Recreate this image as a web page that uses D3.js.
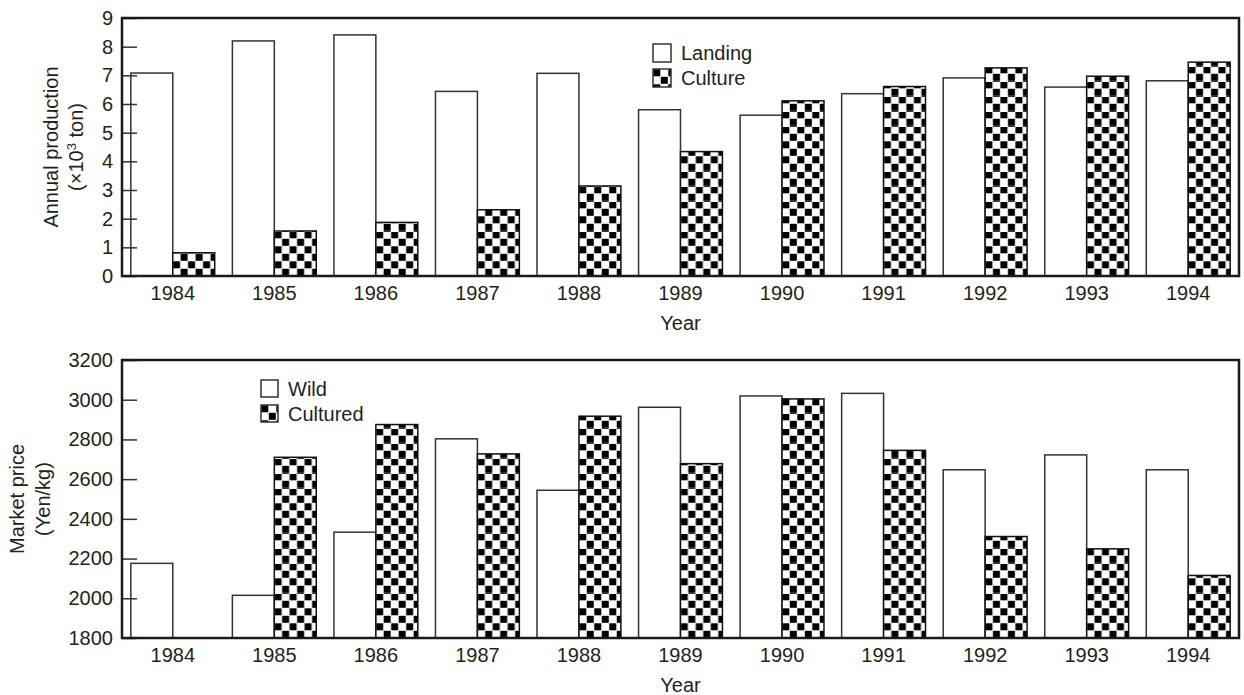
<!DOCTYPE html>
<html>
<head>
<meta charset="utf-8">
<script src="https://cdn.jsdelivr.net/npm/d3@7"></script>
<style>
	body { margin: 0; background: #fff; }
	text { font-family: "Liberation Sans", Arial, sans-serif; fill: #231f20; }
</style>
</head>
<body>
<svg id="chart"></svg>
<script>
// data
let years = ["1984", "1985", "1986", "1987", "1988", "1989", "1990", "1991", "1992", "1993", "1994"];
let landing = [7.08, 8.2, 8.41, 6.44, 7.07, 5.8, 5.61, 6.36, 6.91, 6.59, 6.81];
let culture = [0.81, 1.57, 1.87, 2.31, 3.14, 4.34, 6.11, 6.61, 7.26, 6.97, 7.46];
let wildPrice = [2176, 2015, 2333, 2803, 2544, 2962, 3019, 3032, 2647, 2722, 2647];
let culturedPrice = [null, 2710, 2875, 2727, 2917, 2678, 3004, 2745, 2311, 2249, 2115];
let prodTicks = [0, 1, 2, 3, 4, 5, 6, 7, 8, 9];
let priceTicks = [1800, 2000, 2200, 2400, 2600, 2800, 3000, 3200];

let w = 1244;
let h = 695;
let fs = '20px';

let svg = d3.select('#chart')
	.attr('width', w)
	.attr('height', h);

svg.append('rect').attr('width', w).attr('height', h).attr('fill', '#fff');

// checker fill
let pat = svg.append('defs').append('pattern')
	.attr('id', 'checker')
	.attr('patternUnits', 'userSpaceOnUse')
	.attr('width', 15)
	.attr('height', 15);
pat.append('rect').attr('width', 15).attr('height', 15).attr('fill', '#fff');
pat.append('rect').attr('x', 0.3).attr('y', 0.3).attr('width', 7).attr('height', 7).attr('fill', '#000');
pat.append('rect').attr('x', 7.8).attr('y', 7.8).attr('width', 7).attr('height', 7).attr('fill', '#000');

function makeChart(opt) {
	let marginL = 122;
	let right = 1239;

	let xScale = d3.scaleBand()
		.domain(years)
		.range([marginL, right])
		.paddingInner(0.174)
		.paddingOuter(0.087);

	let sub = d3.scaleBand()
		.domain([0, 1])
		.range([0, xScale.bandwidth()]);

	let yScale = d3.scaleLinear()
		.domain(opt.domain)
		.range([opt.bottom, opt.top]);

	let g = svg.append('g');

	// plain bars
	g.selectAll('.plain')
		.data(years.map((y, i) => ({ year: y, v: opt.a[i] })))
		.enter()
		.append('rect')
		.attr('x', d => xScale(d.year) + sub(0))
		.attr('y', d => yScale(d.v))
		.attr('width', sub.bandwidth())
		.attr('height', d => yScale(opt.domain[0]) - yScale(d.v))
		.attr('fill', '#fff')
		.attr('stroke', '#333')
		.attr('stroke-width', 1.5);

	// checker bars, each in its own group so the pattern starts at the bar corner
	let cb = g.selectAll('.check')
		.data(years.map((y, i) => ({ year: y, v: opt.b[i] })).filter(d => d.v != null))
		.enter()
		.append('g')
		.attr('transform', d => `translate(${xScale(d.year) + sub(1)}, ${yScale(opt.domain[0])})`);
	cb.append('rect')
		.attr('x', 0)
		.attr('y', d => yScale(d.v) - yScale(opt.domain[0]))
		.attr('width', sub.bandwidth())
		.attr('height', d => yScale(opt.domain[0]) - yScale(d.v))
		.attr('fill', 'url(#checker)')
		.attr('stroke', '#111')
		.attr('stroke-width', 1.5);

	// AXES
	let yAxis = d3.axisLeft(yScale)
		.tickValues(opt.ticks)
		.tickFormat(d3.format('d'))
		.tickSizeInner(-15)
		.tickSizeOuter(0)
		.tickPadding(9);

	let ya = g.append('g')
		.attr('transform', `translate(${marginL}, 0)`)
		.call(yAxis);
	ya.select('.domain').remove();
	ya.selectAll('line').attr('stroke', '#333').attr('stroke-width', 1.5);
	ya.selectAll('text').style('font-size', fs).attr('fill', '#231f20');

	let xAxis = d3.axisBottom(xScale).tickSize(0).tickPadding(10);
	let xa = g.append('g')
		.attr('transform', `translate(0, ${opt.bottom})`)
		.call(xAxis);
	xa.select('.domain').remove();
	xa.selectAll('text').style('font-size', fs).attr('fill', '#231f20');

	// frame
	g.append('rect')
		.attr('x', marginL)
		.attr('y', opt.top)
		.attr('width', right - marginL)
		.attr('height', opt.bottom - opt.top)
		.attr('fill', 'none')
		.attr('stroke', '#1a1a1a')
		.attr('stroke-width', 2.5);

	//LABELS
	g.append('text')
		.attr('x', (marginL + right) / 2)
		.attr('y', opt.bottom + 54)
		.style('text-anchor', 'middle')
		.style('font-size', fs)
		.text('Year');

	let mid = (opt.top + opt.bottom) / 2;
	opt.title.forEach((t, i) => {
		let tx = g.append('text')
			.attr('transform', `translate(${opt.titleX[i]}, ${mid}) rotate(-90)`)
			.style('text-anchor', 'middle')
			.style('font-size', fs);
		t.forEach(part => {
			let s = tx.append('tspan').text(part.s);
			if (part.sup) s.attr('baseline-shift', 'super').style('font-size', '13px');
		});
	});

	// legend
	let lg = g.selectAll('.legend')
		.data(opt.legend)
		.enter()
		.append('g')
		.attr('transform', (d, i) => `translate(${opt.legendX}, ${opt.legendY + i * 25})`);
	lg.append('rect')
		.attr('width', opt.box)
		.attr('height', opt.box)
		.attr('fill', (d, i) => i ? 'url(#checker)' : '#fff')
		.attr('stroke', '#333')
		.attr('stroke-width', 1.5);
	lg.append('text')
		.attr('x', opt.box + 10)
		.attr('y', opt.box / 2)
		.attr('dy', '0.36em')
		.style('font-size', fs)
		.text(d => d);
}

makeChart({
	a: landing, b: culture, domain: [0, 9], ticks: prodTicks,
	top: 18, bottom: 276,
	title: [[{ s: 'Annual production' }], [{ s: '(×10' }, { s: '3', sup: true }, { s: ' ton)' }]],
	titleX: [58, 83],
	legend: ['Landing', 'Culture'], legendX: 653, legendY: 44, box: 18
});

makeChart({
	a: wildPrice, b: culturedPrice, domain: [1800, 3200], ticks: priceTicks,
	top: 360, bottom: 638,
	title: [[{ s: 'Market price' }], [{ s: '(Yen/kg)' }]],
	titleX: [24, 50],
	legend: ['Wild', 'Cultured'], legendX: 261, legendY: 380, box: 17
});
</script>
</body>
</html>
